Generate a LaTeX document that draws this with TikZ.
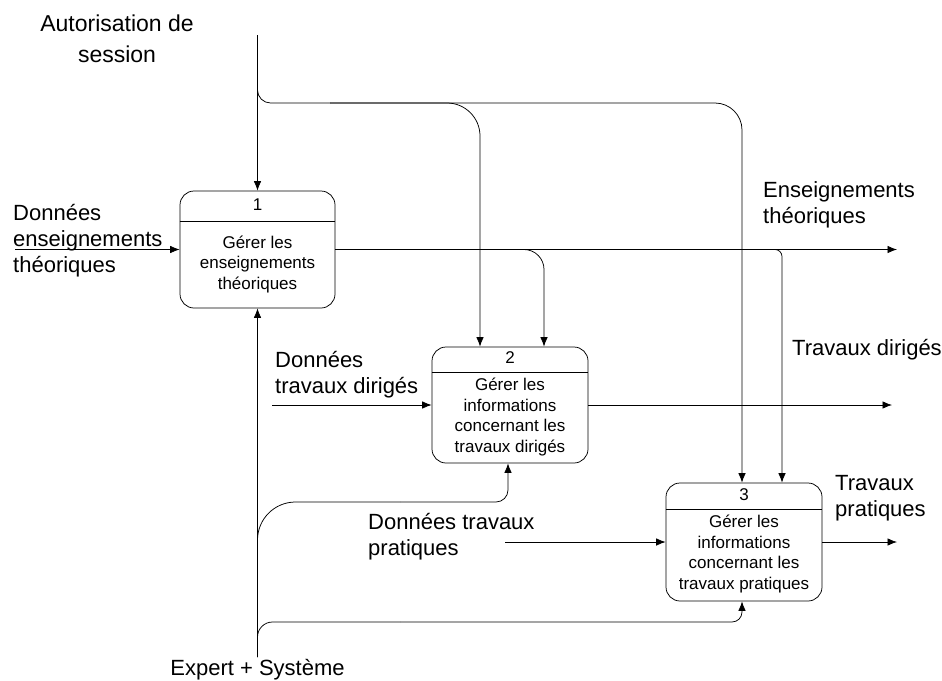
\documentclass[tikz,border=0pt]{standalone}
\usepackage{fontspec}
\setmainfont{Liberation Sans}
\usetikzlibrary{arrows.meta}
\begin{document}
\begin{tikzpicture}[x=1pt,y=-1pt,
  ln/.style={draw=black, line width=0.75pt},
  flow/.style={ln, -{Latex[length=9.5pt,width=7.5pt]}},
  proc/.style={ln, rounded corners=14pt, inner sep=0pt, minimum width=#1},
  proc/.default=156pt,
  boxtxt/.style={font=\fontsize{17}{20.5}\selectfont, align=center, inner sep=0pt},
  lbl/.style={font=\fontsize{22}{26}\selectfont, align=left, inner sep=0pt, anchor=base west}
]
\useasboundingbox (0,0) rectangle (942,680);

% processes
\node[proc=155pt, minimum height=117pt] (box1) at (257.5,249.5) {};
\node[proc, minimum height=116pt] (box2) at (510,405) {};
\node[proc, minimum height=118pt] (box3) at (744,542) {};
\draw[ln] (box1.west |- 0,221) -- (box1.east |- 0,221);
\draw[ln] (box2.west |- 0,372) -- (box2.east |- 0,372);
\draw[ln] (box3.west |- 0,509) -- (box3.east |- 0,509);

\node[boxtxt, anchor=base] (n1) at (257.5,210) {1};
\node[boxtxt, anchor=base] (n2) at (510,363) {2};
\node[boxtxt, anchor=base] (n3) at (744,500) {3};
\node[boxtxt, anchor=base] (t1) at (257.5,289) {Gérer les\\enseignements\\théoriques};
\node[boxtxt, anchor=base] (t2) at (510,452) {Gérer les\\informations\\concernant les\\travaux dirigés};
\node[boxtxt, anchor=base] (t3) at (744,589) {Gérer les\\informations\\concernant les\\travaux pratiques};

% labels
\node[font=\fontsize{23}{31}\selectfont, align=center, inner sep=0pt, anchor=base] (Laut) at (117,62) {Autorisation de\\session};
\node[lbl] (Lin1) at (13,272) {Données\\enseignements\\théoriques};
\node[lbl] (Lout1) at (763,223) {Enseignements\\théoriques};
\node[lbl] (Lin2) at (275,393) {Données\\travaux dirigés};
\node[lbl] (Lout2) at (792,355) {Travaux dirigés};
\node[lbl] (Lin3) at (368,555) {Données travaux\\pratiques};
\node[lbl] (Lout3) at (835,516) {Travaux\\pratiques};
\node[font=\fontsize{22}{26}\selectfont, inner sep=0pt, anchor=base] (Lexp) at (257.5,675) {Expert + Système};

% coordinates
\coordinate (aut) at (257.5,35);
\coordinate (ja) at (330,103);
\coordinate (jb) at (440,249.5);
\coordinate (exp) at (257.5,657);
\coordinate (jc) at (400,502);
\coordinate (jd) at (400,622);
\coordinate (in1) at (15,249.5);
\coordinate (in2) at (272,405);
\coordinate (in3) at (505,542);
\coordinate (eo1) at (897,249.5);
\coordinate (eo2) at (892,405);
\coordinate (eo3) at (897,542);

% autorisation
\draw[flow] (aut) -- (box1.north);
\draw[ln, rounded corners=13pt] (aut) -- (257.5,103) -- (ja);
\draw[flow, rounded corners=33pt] (ja) -- (480,103) -- (480,0 |- box2.north);
\draw[flow, rounded corners=27pt] (ja) -- (742,103) -- (742,0 |- box3.north);

% outputs of box1
\draw[flow] (box1.east) -- (eo1);
\draw[flow, rounded corners=20pt] (jb) -- (544,249.5) -- (544,0 |- box2.north);
\draw[flow, rounded corners=7pt] (jb) -- (782,249.5) -- (782,0 |- box3.north);

\draw[flow] (box2.east) -- (eo2);
\draw[flow] (box3.east) -- (eo3);

% inputs
\draw[flow] (in1) -- (box1.west);
\draw[flow] (in2) -- (box2.west);
\draw[flow] (in3) -- (box3.west);

% expert
\draw[flow] (exp) -- (box1.south);
\draw[ln, rounded corners=38pt] (exp) -- (257.5,502) -- (jc);
\draw[flow, rounded corners=12pt] (jc) -- (508,502) -- (508,0 |- box2.south);
\draw[ln, rounded corners=15pt] (exp) -- (257.5,622) -- (jd);
\draw[flow, rounded corners=10pt] (jd) -- (742,622) -- (742,0 |- box3.south);
\end{tikzpicture}
\end{document}
